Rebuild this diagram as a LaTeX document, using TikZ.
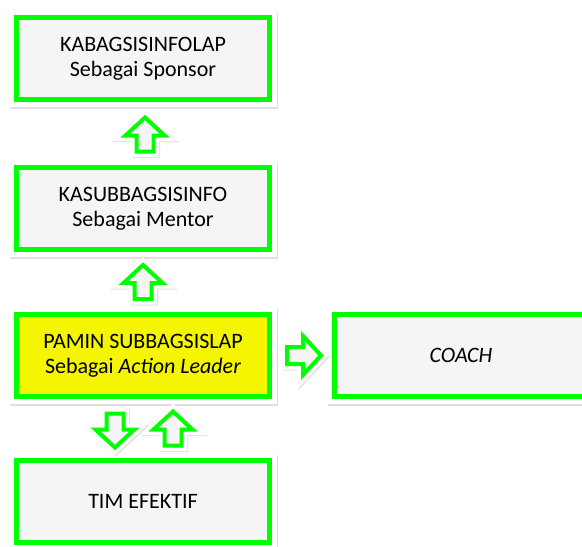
\documentclass[tikz,border=0pt]{standalone}
\usepackage{fontspec}
\setmainfont{Carlito}
\usepackage{tikz}
\usetikzlibrary{positioning, calc}
\definecolor{cGreen}{RGB}{0,255,0}
\definecolor{cYellow}{RGB}{245,245,0}
\definecolor{cGrayBg}{RGB}{245,245,245}
\tikzset{
	roleBox/.style ={rectangle, draw=cGreen, line width=5pt, fill=cGrayBg, minimum width=253pt, minimum height=82pt, align=center,
		preaction={draw=black!12, line width=15pt, transform canvas={shift={(1.2pt,-1.6pt)}}},
		preaction={draw=white, line width=15pt}},
	blockArr/.pic   ={\path[draw=cGreen, line width=4pt, fill=cGrayBg, line join=miter,
		preaction={draw=black!12, line width=11pt, line join=miter, transform canvas={shift={(1pt,-1.2pt)}}},
		preaction={draw=white, line width=11pt, line join=miter}]
		(-17,-8.5) -- (-1,-8.5) -- (-1,-19.5) -- (17,0) -- (-1,19.5) -- (-1,8.5) -- (-17,8.5) -- cycle;},
}

\begin{document}
\begin{tikzpicture}[x=1pt, y=1pt, every node/.style={font=\fontsize{22}{25.5}\selectfont}, node distance=60pt]
	\useasboundingbox (0,0) rectangle (582,-547);
	\node[roleBox, anchor=north west] (kabag) at (14,-15) {KABAGSISINFOLAP\\Sebagai Sponsor};
	\node[roleBox, below=63pt of kabag] (kasub) {KASUBBAGSISINFO\\Sebagai Mentor};
	\node[roleBox, below=of kasub, fill=cYellow] (pamin) {PAMIN SUBBAGSISLAP\\Sebagai \textit{Action Leader}};
	\node[roleBox, right=of pamin] (coach) {\textit{COACH}};
	\node[roleBox, below=59pt of pamin] (tim) {TIM EFEKTIF};
	% panah blok antar kotak
	\pic[rotate=90] at ($(kabag.south)!0.5!(kasub.north)+(2,-1)$) {blockArr};
	\pic[rotate=90] at ($(kasub.south)!0.5!(pamin.north)$) {blockArr};
	\pic at ($(pamin.east)!0.5!(coach.west)+(2,0)$) {blockArr};
	\pic[rotate=-90] at ($(pamin.south)!0.5!(tim.north)+(-28,-2)$) {blockArr};
	\pic[rotate=90] at ($(pamin.south)!0.5!(tim.north)+(30,0)$) {blockArr};
\end{tikzpicture}
\end{document}
